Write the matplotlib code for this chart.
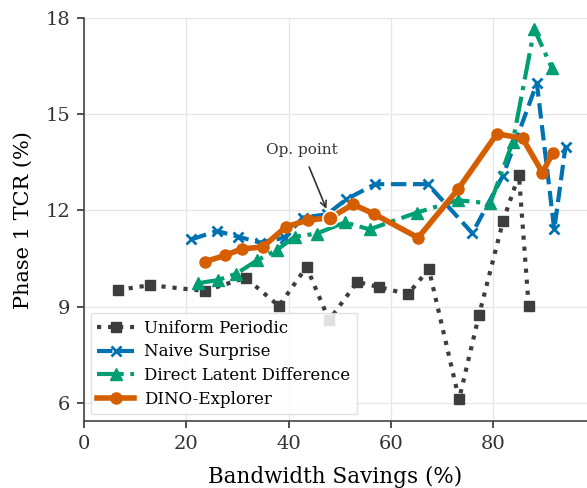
import numpy as np
import matplotlib.pyplot as plt

plt.rcParams['font.family'] = 'DejaVu Serif'

# Uniform Periodic baseline
uni_x = [6.6, 12.9, 23.6, 31.6, 38.1, 43.5, 47.9, 53.4, 57.7, 63.3, 67.4, 73.3, 77.2, 81.9, 85.0, 86.9]
uni_y = [9.52, 9.67, 9.49, 9.90, 9.02, 10.24, 8.58, 9.77, 9.61, 9.39, 10.17, 6.11, 8.74, 11.67, 13.11, 9.02]

# Naive Surprise
naive_x = [21.0, 26.0, 30.2, 34.4, 39.2, 42.8, 47.5, 51.3, 56.9, 67.2, 75.9, 81.9, 88.5, 91.9, 94.1]
naive_y = [11.10, 11.36, 11.18, 11.00, 11.15, 11.78, 11.88, 12.35, 12.82, 12.82, 11.29, 13.09, 15.97, 11.41, 13.99]

# Direct Latent Difference
dld_x = [22.3, 26.2, 29.8, 33.8, 37.7, 41.2, 45.5, 51.0, 55.8, 65.0, 73.0, 79.4, 83.8, 88.0, 91.4]
dld_y = [9.73, 9.83, 10.03, 10.44, 10.77, 11.18, 11.28, 11.63, 11.41, 11.93, 12.32, 12.22, 14.14, 17.66, 16.45]

# DINO-Explorer
dino_x = [23.6, 27.6, 30.8, 34.9, 39.5, 43.8, 48.1, 52.6, 56.7, 65.3, 73.1, 80.7, 85.7, 89.6, 91.6]
dino_y = [10.40, 10.60, 10.80, 10.86, 11.49, 11.70, 11.77, 12.19, 11.89, 11.15, 12.66, 14.39, 14.25, 13.18, 13.80]
op_idx = 6

fig = plt.figure(figsize=(5.87, 4.88), dpi=100)
ax = fig.add_axes([0.143, 0.137, 0.857, 0.826])

ax.plot(uni_x, uni_y, ':', color='#3d3d3d', lw=3, marker='s', ms=7.5,
        label='Uniform Periodic', zorder=3)
ax.plot(naive_x, naive_y, '--', color='#0072B2', lw=3, marker='x', ms=7, mew=2,
        label='Naive Surprise', zorder=4)
ax.plot(dld_x, dld_y, '-.', color='#009E73', lw=3, marker='^', ms=8.5,
        label='Direct Latent Difference', zorder=4)
ax.plot(dino_x, dino_y, '-', color='#D55E00', lw=4, marker='o', ms=8,
        label='DINO-Explorer', zorder=5)

# highlight the chosen operating point
ax.plot(dino_x[op_idx], dino_y[op_idx], 'o', color='#D55E00', ms=11,
        mec='white', mew=1.2, zorder=6)
ax.annotate('Op. point', xy=(dino_x[op_idx], dino_y[op_idx]),
            xytext=(42.6, 13.9), ha='center', va='center', fontsize=11,
            color='#333333',
            arrowprops=dict(arrowstyle='->', color='#333333', lw=1.2,
                            shrinkA=6, shrinkB=7))

ax.set_xlim(0, 98.3)
ax.set_ylim(5.43, 18)
ax.set_xticks([0, 20, 40, 60, 80])
ax.set_yticks([6, 9, 12, 15, 18])
ax.set_xlabel('Bandwidth Savings (%)', fontsize=15.5, labelpad=9)
ax.set_ylabel('Phase 1 TCR (%)', fontsize=15, labelpad=9)
ax.tick_params(labelsize=14, colors='#333333', direction='out', length=5, width=1.2,
               pad=5)
ax.grid(True, color='#e6e6e6', lw=0.9)
ax.set_axisbelow(True)
for side in ['top', 'right']:
    ax.spines[side].set_visible(False)
for side in ['left', 'bottom']:
    ax.spines[side].set_color('#444444')
    ax.spines[side].set_linewidth(1.2)

leg = ax.legend(loc='lower left', fontsize=12, frameon=True, fancybox=False,
                framealpha=0.85, edgecolor='#dddddd', handlelength=2.2,
                borderpad=0.4, labelspacing=0.4, borderaxespad=0.4,
                handletextpad=0.6)
leg.set_zorder(10)

fig.savefig('out.png', dpi=100)
